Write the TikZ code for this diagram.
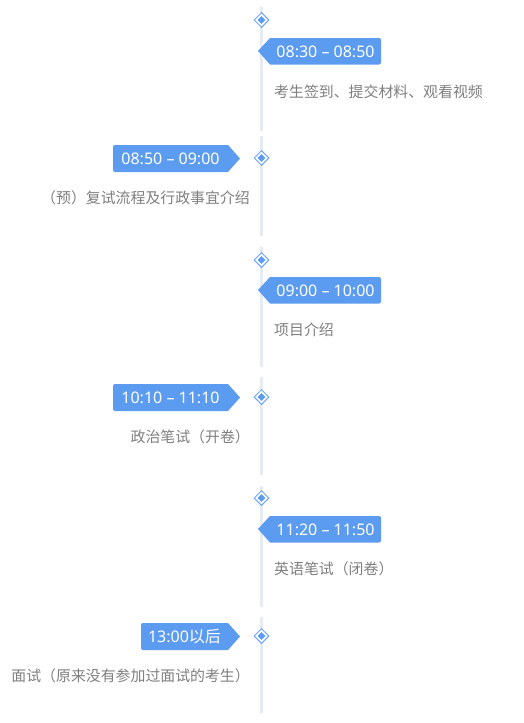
\documentclass[tikz,border=0pt]{standalone}
\usepackage{fontspec}
\setmainfont{Noto Sans CJK SC}
\newfontfamily\latinf{Noto Sans}
\usetikzlibrary{shapes.geometric}
\definecolor{tlblue}{HTML}{5B9BF0}
\definecolor{tlline}{HTML}{E6EAF3}
\definecolor{tldesc}{HTML}{7F7F7F}
\definecolor{tlring}{HTML}{6FA6F2}
\tikzset{
  seg/.style={draw=tlline, line width=3},
  ring/.style={diamond, draw=tlring, fill=white, line width=1, minimum width=15, minimum height=15, inner sep=0},
  dot/.style={diamond, fill=tlblue, minimum width=8, minimum height=8, inner sep=0},
  timetxt/.style={text=white, font=\fontsize{16}{18}\selectfont, inner sep=0},
  desc/.style={text=tldesc, font=\fontsize{14.9}{18}\selectfont, inner sep=0},
}
\begin{document}
\begin{tikzpicture}[x=1pt,y=-1pt]
\useasboundingbox[fill=white] (0,0) rectangle (523,723);
% segments
\draw[seg] (261.5,7) -- (261.5,131);
\draw[seg] (261.5,136) -- (261.5,236);
\draw[seg] (261.5,247) -- (261.5,367);
\draw[seg] (261.5,377) -- (261.5,475);
\draw[seg] (261.5,486) -- (261.5,607);
\draw[seg] (261.5,617) -- (261.5,713);
% diamonds
\foreach \n/\y in {1/20,2/158,3/260,4/397,5/498,6/636}{
  \node[ring] (d\n) at (261.5,\y) {};
  \node[dot] (k\n) at (261.5,\y) {};
}
% right tags
\foreach \n/\t in {1/38,3/277,5/516}{
  \fill[tlblue] (258,\t+13) -- (270,\t) [rounded corners=2] -- (381,\t) -- (381,\t+26.5) [sharp corners] -- (270,\t+26.5) -- cycle;
}
% left tags
\fill[tlblue] (240,158.5) -- (228,172) [rounded corners=2] -- (113,172) -- (113,145) [sharp corners] -- (228,145) -- cycle;
\fill[tlblue] (240,397.5) -- (228,411) [rounded corners=2] -- (113,411) -- (113,384) [sharp corners] -- (228,384) -- cycle;
\fill[tlblue] (240,636.5) -- (228,650) [rounded corners=2] -- (141,650) -- (141,623) [sharp corners] -- (228,623) -- cycle;
% time texts
\node[timetxt] (t1) at (325.5,51.5) {\latinf 08:30 – 08:50};
\node[timetxt] (t2) at (170.5,158.5) {\latinf 08:50 – 09:00};
\node[timetxt] (t3) at (325.5,290.5) {\latinf 09:00 – 10:00};
\node[timetxt] (t4) at (170.5,397.5) {\latinf 10:10 – 11:10};
\node[timetxt] (t5) at (325.5,529.5) {\latinf 11:20 – 11:50};
\node[timetxt] (t6) at (184.5,636.5) {{\latinf 13:00}以后};
% descriptions
\node[desc, anchor=west] (e1) at (274,92) {考生签到、提交材料、观看视频};
\node[desc, anchor=east] (e2) at (250,198) {（预）复试流程及行政事宜介绍};
\node[desc, anchor=west] (e3) at (274,330) {项目介绍};
\node[desc, anchor=east] (e4) at (250,437) {政治笔试（开卷）};
\node[desc, anchor=west] (e5) at (274,569) {英语笔试（闭卷）};
\node[desc, anchor=east] (e6) at (250,676) {面试（原来没有参加过面试的考生）};
\end{tikzpicture}
\end{document}
